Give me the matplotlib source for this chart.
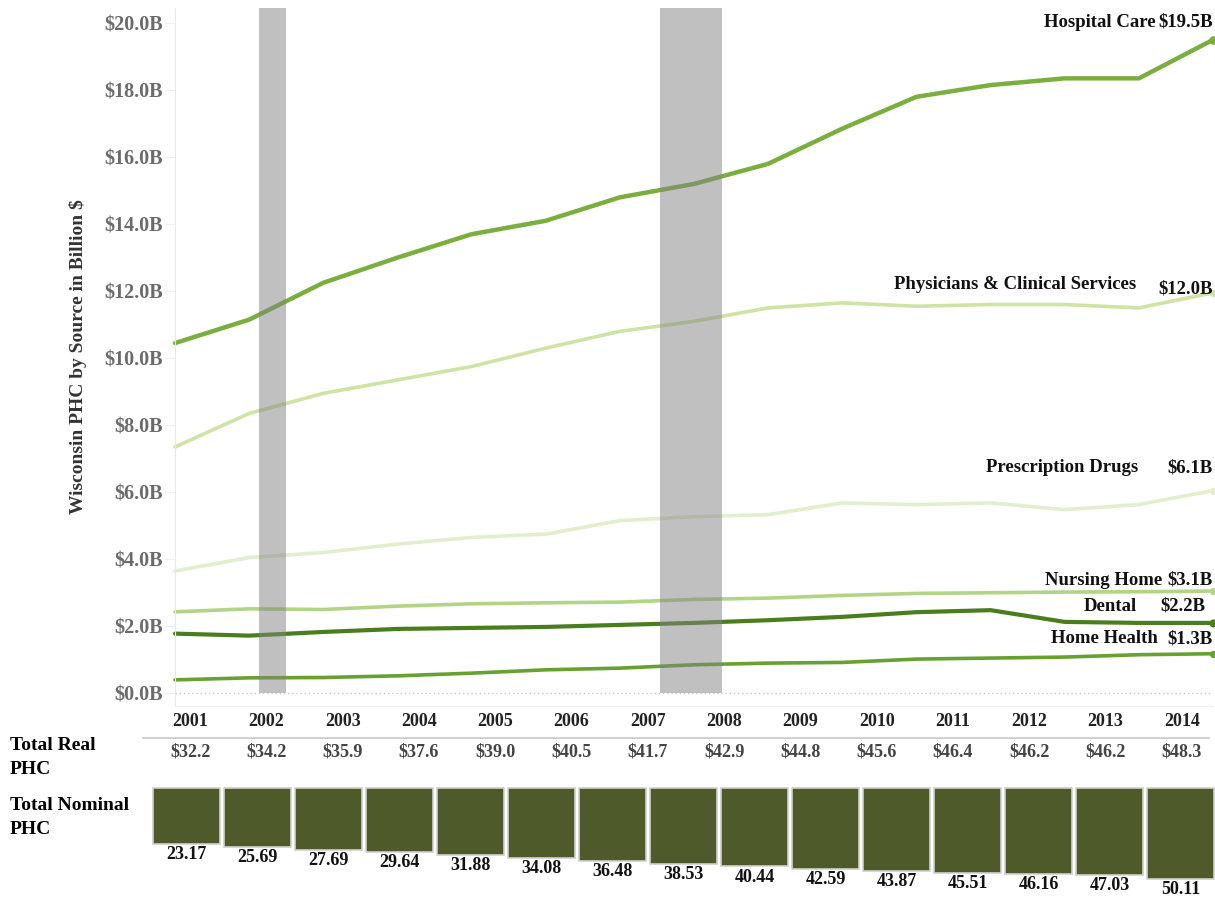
import numpy as np
import matplotlib
matplotlib.use('Agg')
import matplotlib.pyplot as plt

plt.rcParams['font.family'] = ['Liberation Serif', 'DejaVu Serif']
plt.rcParams['font.weight'] = 'bold'
plt.rcParams['axes.labelweight'] = 'bold'

# line data, one point per year 2000-2014
years = [2000, 2001, 2002, 2003, 2004, 2005, 2006, 2007, 2008, 2009, 2010, 2011, 2012, 2013, 2014]
hospital = [10.45, 11.15, 12.25, 13.0, 13.7, 14.1, 14.8, 15.2, 15.8, 16.85, 17.8, 18.15, 18.35, 18.35, 19.5]
physicians = [7.35, 8.35, 8.95, 9.35, 9.75, 10.3, 10.8, 11.1, 11.5, 11.65, 11.55, 11.6, 11.6, 11.5, 11.95]
drugs = [3.65, 4.05, 4.2, 4.45, 4.65, 4.75, 5.15, 5.27, 5.33, 5.68, 5.63, 5.68, 5.48, 5.63, 6.05]
nursing = [2.43, 2.52, 2.5, 2.6, 2.67, 2.7, 2.72, 2.8, 2.84, 2.92, 2.98, 3.0, 3.02, 3.03, 3.05]
dental = [1.78, 1.72, 1.83, 1.92, 1.95, 1.98, 2.04, 2.1, 2.18, 2.28, 2.42, 2.48, 2.13, 2.1, 2.1]
home_health = [0.4, 0.46, 0.47, 0.52, 0.6, 0.7, 0.75, 0.85, 0.9, 0.92, 1.02, 1.05, 1.08, 1.15, 1.18]

names = ['Hospital Care', 'Physicians & Clinical Services', 'Prescription Drugs',
         'Nursing Home', 'Dental', 'Home Health']
end_labels = ['$19.5B', '$12.0B', '$6.1B', '$3.1B', '$2.2B', '$1.3B']

# recession shading (in the same x units as the lines)
recessions = [(2001.13, 2001.50), (2006.54, 2007.38)]

# table rows
table_years = ['2001', '2002', '2003', '2004', '2005', '2006', '2007',
               '2008', '2009', '2010', '2011', '2012', '2013', '2014']
total_real = ['$32.2', '$34.2', '$35.9', '$37.6', '$39.0', '$40.5', '$41.7',
              '$42.9', '$44.8', '$45.6', '$46.4', '$46.2', '$46.2', '$48.3']
total_nominal = [23.17, 25.69, 27.69, 29.64, 31.88, 34.08, 36.48, 38.53,
                 40.44, 42.59, 43.87, 45.51, 46.16, 47.03, 50.11]

series = [hospital, physicians, drugs, nursing, dental, home_health]
colors = ['#7aae3e', '#cde4a5', '#e2eecd', '#b2d487', '#4a7d1e', '#68a032']
widths = [3.2, 2.6, 2.6, 2.6, 3.0, 2.6]
# label placement: (name right x, name y, value right x, value y)
label_pos = [(2013.22, 20.03, 2014.0, 20.03),
             (2012.97, 12.2, 2014.0, 12.05),
             (2012.99, 6.73, 2014.0, 6.73),
             (2013.31, 3.38, 2014.0, 3.38),
             (2012.97, 2.6, 2013.9, 2.6),
             (2013.25, 1.62, 2014.0, 1.62)]

fig = plt.figure(figsize=(12.15, 9), dpi=100)

# main line chart
ax = fig.add_axes([175/1215, 1-706/900, (1213-175)/1215, 698/900])
ymin, ymax = -0.38, 20.45
for (x0, x1) in recessions:
    ax.fill_between([x0, x1], 0, ymax, color='#838383', alpha=0.5, lw=0, zorder=3)
for s, c, w in zip(series, colors, widths):
    ax.plot(years, s, color=c, lw=w, solid_capstyle='round', zorder=2, clip_on=False,
            marker='o', markevery=[len(s)-1], ms=w*1.6, mec=c)
ax.axhline(0, color='#c8c8c8', lw=1, ls=(0, (1, 2)), zorder=1)
for nm, lab, (nx, ny, vx, vy) in zip(names, end_labels, label_pos):
    ax.text(nx, ny, nm, ha='right', va='center', fontsize=13.5, color='#111111')
    ax.text(vx, vy, lab, ha='right', va='center', fontsize=13.5, color='#111111')

ax.set_xlim(2000, 2014)
ax.set_ylim(ymin, ymax)
ax.set_xticks([])
yt = np.arange(0, 21, 2)
ax.set_yticks(yt)
ax.set_yticklabels(['$%.1fB' % v for v in yt], fontsize=14.5, color='#6b6b6b')
ax.tick_params(axis='y', length=7, color='#eeeeee', pad=2)
for sp in ['top', 'right']:
    ax.spines[sp].set_visible(False)
ax.spines['left'].set_color('#e8e8e8')
ax.spines['bottom'].set_color('#f0f0f0')
ax.set_ylabel('Wisconsin PHC by Source in Billion $', fontsize=14, color='#333333',
              fontweight='bold', labelpad=12)

# year / real PHC header
hx = fig.add_axes([152/1215, 1-775/900, (1220-152)/1215, 69/900])
hx.set_xlim(-0.5, 13.5)
hx.set_ylim(0, 1)
hx.axis('off')
for i, (yr, rv) in enumerate(zip(table_years, total_real)):
    hx.text(i, 0.77, yr, ha='center', va='center', fontsize=13, color='#222222')
    hx.text(i, 0.33, rv, ha='center', va='center', fontsize=13, color='#444444')
hx.plot([-0.62, 13.36], [0.54, 0.54], color='#c8c8c8', lw=1.2, clip_on=False)
fig.text(10/1215, 1-746/900, 'Total Real', fontsize=14, va='center', ha='left')
fig.text(10/1215, 1-769/900, 'PHC', fontsize=14, va='center', ha='left')

# nominal PHC bars
bx = fig.add_axes([151/1215, 0, 1065/1215, 113/900])
base = -19.1
xs = np.arange(len(total_nominal))
bx.bar(xs, np.array(total_nominal) - base, bottom=base, width=0.947,
       color='#4e5a2a', edgecolor='#d0d0d0', lw=1.2)
for x, v in zip(xs, total_nominal):
    bx.annotate('%.2f' % v, (x, v), xytext=(0, -1.5), textcoords='offset points',
                ha='center', va='top', fontsize=13, color='#111111', annotation_clip=False)
bx.set_xlim(-0.5, len(total_nominal) - 0.5)
bx.set_ylim(base + 113/1.33, base - 0.6)
bx.axis('off')
fig.text(10/1215, 1-806/900, 'Total Nominal', fontsize=14, va='center', ha='left')
fig.text(10/1215, 1-829/900, 'PHC', fontsize=14, va='center', ha='left')

fig.savefig('out.png', dpi=100)
